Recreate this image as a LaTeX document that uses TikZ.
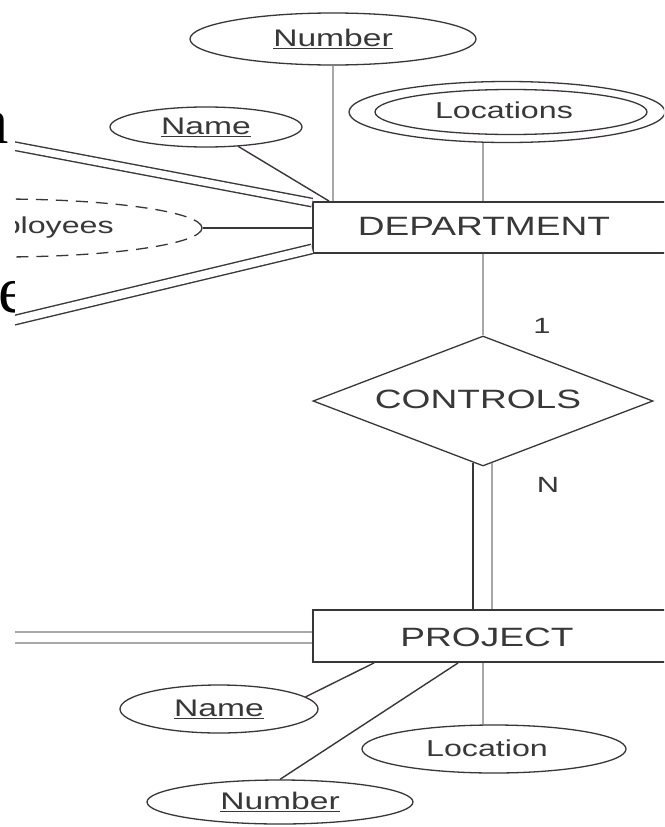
\documentclass[tikz,border=0pt]{standalone}
\usepackage{graphicx}
\usepackage{fontspec}
\setmainfont{Liberation Sans}
\newfontfamily\slidefont{Liberation Serif}
\usetikzlibrary{shapes.geometric}

% labels of the ER figure are set wide
\newcommand\widetext[1]{\scalebox{1.4}[1]{#1}}

\definecolor{ink}{HTML}{3A353A}
\definecolor{pale}{HTML}{A8A8A8}
\definecolor{txt}{HTML}{383838}

\begin{document}
\begin{tikzpicture}[x=1pt,y=-1pt,
  entity/.style={draw=ink, line width=1.8pt, rectangle, minimum width=387pt,
                 minimum height=51pt, inner sep=0pt},
  attr/.style={draw=ink, line width=1.3pt, ellipse, inner sep=0pt, text=txt,
               font=\fontsize{24}{26}\selectfont},
  attrtext/.style={text=txt, inner sep=0pt, font=\fontsize{23}{25}\selectfont},
  rel/.style={draw=ink, line width=1.3pt, diamond, aspect=2.6, inner sep=0pt,
              minimum width=340pt, minimum height=130pt, text=txt,
              font=\fontsize{26.5}{28}\selectfont},
  bigtext/.style={text=txt, inner sep=0pt, font=\fontsize{26.5}{28}\selectfont},
  cardtext/.style={text=txt, inner sep=0pt, font=\fontsize{22}{24}\selectfont},
  link/.style={draw=ink, line width=1.4pt},
  palelink/.style={draw=pale, line width=1.6pt},
  slide/.style={inner sep=0pt, text=black, font=\slidefont\fontsize{66}{66}\selectfont}]

\useasboundingbox (0,0) rectangle (664,827);

% slide text behind the pasted figure
\node[slide, anchor=base east] (sa) at (9,143) {a};
\node[slide, anchor=base west] (se) at (-2,312) {e};

% white background of the figure
\fill[white] (15,0) rectangle (664,827);

\begin{scope}
\clip (15,0) rectangle (664,827);

% entities
\node[entity] (dept) at (506.5,227.5) {};
\node[bigtext] (depttext) at (484,226) {\widetext{DEPARTMENT}};
\node[entity, minimum height=52pt] (proj) at (506.5,636) {};
\node[bigtext] (projtext) at (487,637) {\widetext{PROJECT}};

% relationship
\node[rel] (ctrl) at (483,401) {};
\node[bigtext] (ctrltext) at (478,399) {\widetext{CONTROLS}};
\node[cardtext] (one) at (542,326) {\widetext{1}};
\node[cardtext] (many) at (548,485) {\widetext{N}};

% DEPARTMENT attributes
\node[attr, minimum width=286pt, minimum height=52pt] (dnum) at (333,39) {\widetext{\underline{Number}}};
\node[attr, minimum width=192pt, minimum height=40pt] (dname) at (206,127) {\widetext{\underline{Name}}};
\node[attr, minimum width=316pt, minimum height=61pt] (locout) at (507,112) {};
\node[attr, minimum width=272pt, minimum height=45pt] (locin) at (511,112) {};
\node[attrtext] (locstext) at (504,110) {\widetext{Locations}};
\node[attr, dash pattern=on 12pt off 8pt, minimum width=404pt, minimum height=58pt] (nemp) at (0,228) {};
\node[attrtext, anchor=base east] (nemptext) at (114,233) {\widetext{Number\_of\_employees}};

% PROJECT attributes
\node[attr, minimum width=198pt, minimum height=48pt] (pname) at (219,709) {\widetext{\underline{Name}}};
\node[attr, minimum width=266pt, minimum height=44pt] (pnum) at (280,802) {\widetext{\underline{Number}}};
\node[attr, minimum width=264pt, minimum height=48pt] (loc) at (494,749) {};
\node[attrtext] (loctext) at (487,748) {\widetext{Location}};

% relationships leaving to the left
\coordinate (mgr) at (-60,132);
\coordinate (wkf) at (-60,338);
\coordinate (wko) at (-60,637.5);
\draw[link, double=white, double distance=7pt] (mgr) -- ([yshift=-1.5pt]dept.north west);
\draw[link, double=white, double distance=8pt] (wkf) -- ([yshift=5pt]dept.south west);
\draw[palelink, double=white, double distance=9pt] (wko) -- ([yshift=-1.5pt]proj.west);

% attribute links
\draw[palelink] (dnum.south) -- (dnum.south |- dept.north);
\draw[link] (dname) -- ([xshift=17pt]dept.north west);
\draw[palelink] (ctrl.north |- locout.south) -- (ctrl.north |- dept.north);
\draw[link] (nemp.east) -- (nemp.east -| dept.west);
\draw[link] (pname.8) -- ([xshift=62pt]proj.south west);
\draw[link] (pnum.north) -- ([xshift=146pt]proj.south west);
\draw[palelink] (ctrl.south |- proj.south) -- (ctrl.south |- loc.north);

% CONTROLS links: single to DEPARTMENT, double to PROJECT
\draw[palelink] (dept.south -| ctrl.north) -- (ctrl.north);
\coordinate (cl) at ([shift={(-10pt,3.8pt)}]ctrl.south);
\coordinate (cr) at ([shift={(9pt,3.4pt)}]ctrl.south);
\draw[link] (cl) -- (cl |- proj.north);
\draw[palelink] (cr) -- (cr |- proj.north);
\end{scope}
\end{tikzpicture}
\end{document}
